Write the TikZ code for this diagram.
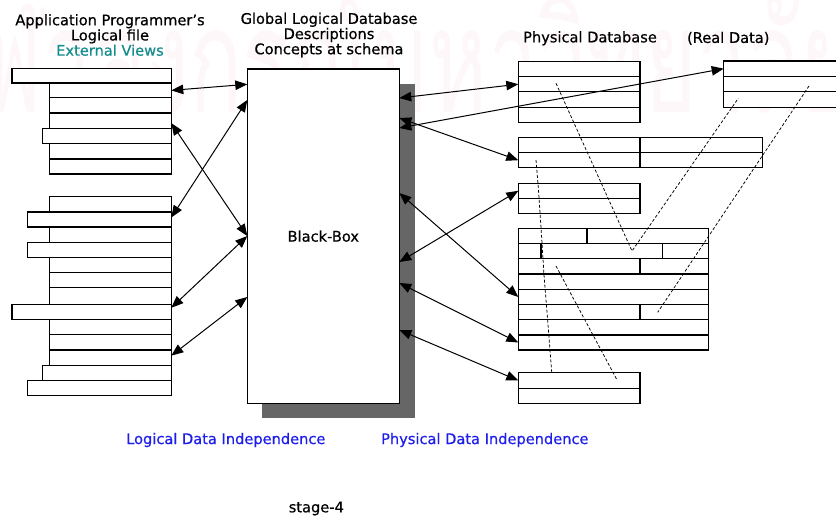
\documentclass[tikz,border=0pt]{standalone}
\usepackage{fontspec}
\usepackage{graphicx}
\setmainfont{DejaVu Sans}[FakeBold=0.6]
\newfontfamily\thaifont[Script=Thai]{Loma}
\usetikzlibrary{arrows.meta,calc}

\definecolor{viewteal}{RGB}{20,140,140}
\definecolor{indblue}{RGB}{30,30,235}
\definecolor{shadowgray}{RGB}{102,102,102}
\definecolor{markpink}{RGB}{254,247,250}

\tikzset{
  cellstyle/.style={draw, fill=white, line width=1.2pt, inner sep=0pt, outer sep=0pt},
  dbl/.style={line width=1pt, {Triangle[length=12pt,width=9.5pt]}-{Triangle[length=12pt,width=9.5pt]}},
  trace/.style={line width=0.75pt, dash pattern=on 3pt off 2pt},
  txt/.style={inner sep=0pt, align=center, font=\fontsize{14.6}{15.2}\selectfont},
}

% a record cell: name, left, top, right, bottom (pixel-like units, y downwards)
\newcommand\cellat[5]{%
  \node[cellstyle, anchor=north west,
        minimum width={(#4-#2)*1pt}, minimum height={(#5-#3)*1pt}] (#1) at (#2,#3) {};}

\begin{document}
\begin{tikzpicture}[x=1pt, y=-1pt]
\useasboundingbox (0,0) rectangle (836,515);

% faint university watermark
\node[text=markpink, inner sep=0pt, anchor=base west] (mark) at (-18,112)
  {\resizebox{870pt}{128pt}{\thaifont ฬาลงกรณ์มหาวิทยาลัย}};

% ---- external views: upper logical file
\cellat{U1}{12}{68.3}{171.3}{83}
\cellat{U2}{49.3}{83}{171.3}{97.7}
\cellat{U3}{49.3}{97.7}{171.3}{113}
\cellat{U4}{49.3}{113}{171.3}{128.3}
\cellat{U5}{42.3}{128.3}{171.3}{143.7}
\cellat{U6}{49.3}{143.7}{171.3}{159}
\cellat{U7}{49.3}{159}{171.3}{174}

% ---- external views: lower logical file
\cellat{M1}{49.3}{196.7}{171.3}{212}
\cellat{M2}{27.3}{212}{171.3}{227}
\cellat{M3}{49.3}{227}{171.3}{242.3}
\cellat{M4}{27.3}{242.3}{171.3}{257.7}
\cellat{M5}{49.3}{257.7}{171.3}{272.7}
\cellat{M6}{49.3}{272.7}{171.3}{287.7}
\cellat{M7}{49.3}{287.7}{171.3}{304.3}
\cellat{M8}{12}{304.3}{171.3}{319.3}
\cellat{M9}{49.3}{319.3}{171.3}{334.7}
\cellat{M10}{49.3}{334.7}{171.3}{350}
\cellat{M11}{49.3}{350}{171.3}{365.3}
\cellat{M12}{42.3}{365.3}{171.3}{380.3}
\cellat{M13}{27.3}{380.3}{171.3}{395.7}

% ---- conceptual schema: the black box with its shadow
\fill[shadowgray] (261.7,84.3) coordinate (shadowtl) rectangle (415,418.3) coordinate (shadowbr);
\node[cellstyle, anchor=north west, minimum width=152pt, minimum height=334.3pt,
      font=\fontsize{14.6}{15.2}\selectfont] (box) at (247.3,69) {Black-Box};

% ---- physical database records
\cellat{A1}{518.3}{61.7}{640}{76.7}
\cellat{A2}{518.3}{76.7}{640}{91.7}
\cellat{A3}{518.3}{91.7}{640}{107.3}
\cellat{A4}{518.3}{107.3}{640}{122.3}

\cellat{B1a}{518.3}{137.7}{640}{152.7}
\cellat{B1b}{640}{137.7}{762.3}{152.7}
\cellat{B2a}{518.3}{152.7}{640}{167.7}
\cellat{B2b}{640}{152.7}{762.3}{167.7}

\cellat{C1}{518.3}{183.3}{640}{198.3}
\cellat{C2}{518.3}{198.3}{640}{213.3}

\cellat{D1a}{518.3}{228.3}{587}{243.3}
\cellat{D1b}{587}{228.3}{708.3}{243.3}
\cellat{D2a}{518.3}{243.3}{541}{258.7}
\cellat{D2b}{541}{243.3}{662.7}{258.7}
\cellat{D2c}{662.7}{243.3}{708.3}{258.7}
\cellat{D3a}{518.3}{258.7}{640}{274}
\cellat{D3b}{640}{258.7}{708.3}{274}
\cellat{D4}{518.3}{274}{708.3}{289.3}
\cellat{D5}{518.3}{289.3}{708.3}{304.7}
\cellat{D6a}{518.3}{304.7}{640}{319.7}
\cellat{D6b}{640}{304.7}{708.3}{319.7}
\cellat{D7}{518.3}{319.7}{708.3}{335}
\cellat{D8}{518.3}{335}{708.3}{350}

\cellat{E1}{518.3}{372.7}{640}{388.3}
\cellat{E2}{518.3}{388.3}{640}{403.3}

% real data (runs off the right edge)
\cellat{R1}{723.7}{61}{850}{76.3}
\cellat{R2}{723.7}{76.3}{850}{91.7}
\cellat{R3}{723.7}{91.7}{850}{107.3}

% ---- dashed traces between stored records
\coordinate (v1) at (556,83.3);
\coordinate (v2) at (632,251);
\coordinate (v3) at (738.3,98.3);
\draw[trace] (v1) -- (v2) -- (v3);

\coordinate (w1) at (536,160);
\coordinate (w2) at (551.7,372);
\draw[trace] (w1) -- (538.5,190) -- (541.5,235) -- (544,275) -- (547,312) -- (w2);

\coordinate (s1) at (556,266);
\coordinate (s2) at (616.7,379.3);
\draw[trace] (s1) -- (s2);

\coordinate (q1) at (809,86);
\coordinate (q2) at (657.7,312.3);
\draw[trace] (q1) -- (q2);

% ---- mapping points on the black box
\coordinate (bl1) at ($(box.north west)+(0,15.3)$);
\coordinate (bl2) at ($(box.north west)+(0,31)$);
\coordinate (bl3) at ($(box.north west)+(0,167)$);
\coordinate (bl4) at ($(box.north west)+(0,228)$);
\coordinate (br1) at ($(box.north east)+(0,29)$);
\coordinate (br2) at ($(box.north east)+(0,49)$);
\coordinate (br3) at ($(box.north east)+(0,59)$);
\coordinate (br4) at ($(box.north east)+(0,124)$);
\coordinate (br5) at ($(box.north east)+(0,193)$);
\coordinate (br6) at ($(box.north east)+(0,214)$);
\coordinate (br7) at ($(box.north east)+(0,261)$);

% ---- logical data independence mappings
\draw[dbl] (U2.east) -- (bl1);
\draw[dbl] ([yshift=-2.5pt]U4.east) -- (bl3);
\draw[dbl] ([yshift=2pt]M2.east) -- (bl2);
\draw[dbl] ([yshift=4pt]M8.east) -- (bl3);
\draw[dbl] ([yshift=2pt]M11.east) -- (bl4);

% ---- physical data independence mappings
\draw[dbl] (br1) -- (A2.west);
\draw[dbl] (br3) -- (R1.west);
\draw[dbl] (br2) -- (B2a.west);
\draw[dbl] (br4) -- (D5.west);
\draw[dbl] (br5) -- (C1.west);
\draw[dbl] (br6) -- (D8.west);
\draw[dbl] (br7) -- (E1.west);

% ---- captions
\node[txt] (apptitle) at (110,35)
  {Application Programmer's\\Logical file\\\textcolor{viewteal}{External Views}};
\node[txt] (gltitle) at (329,35)
  {Global Logical Database\\Descriptions\\Concepts at schema};
\node[txt] (phys) at (590,38.3) {Physical Database};
\node[txt] (real) at (728.3,38.3) {(Real Data)};
\node[txt, text=indblue] (lind) at (225.8,440) {Logical Data Independence};
\node[txt, text=indblue] (pind) at (484.8,440) {Physical Data Independence};
\node[txt] (stage) at (316.3,508.5) {stage-4};

\end{tikzpicture}
\end{document}
